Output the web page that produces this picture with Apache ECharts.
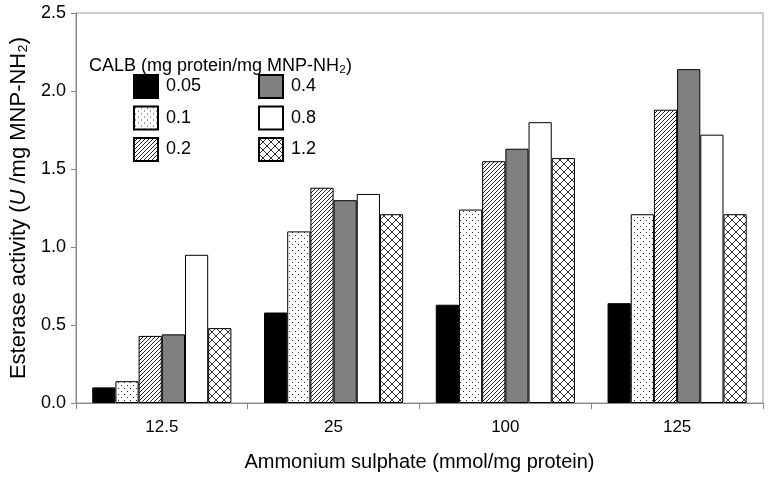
<!DOCTYPE html>
<html><head><meta charset="utf-8">
<script src="https://cdn.jsdelivr.net/npm/echarts@6/dist/echarts.min.js"></script>
<style>html,body{margin:0;padding:0;background:#fff}#c{width:768px;height:477px}</style>
</head><body><div id="c"></div>
<script>
const categories = ['12.5', '25', '100', '125'];
const seriesNames = ['0.05', '0.1', '0.2', '0.4', '0.8', '1.2'];
const s005 = [0.10, 0.58, 0.63, 0.64];
const s01  = [0.14, 1.10, 1.24, 1.21];
const s02  = [0.43, 1.38, 1.55, 1.88];
const s04  = [0.44, 1.30, 1.63, 2.14];
const s08  = [0.95, 1.34, 1.80, 1.72];
const s12  = [0.48, 1.21, 1.57, 1.21];
const yTicks = [0, 0.5, 1.0, 1.5, 2.0, 2.5];

function pat(w, h, draw) {
  const c = document.createElement('canvas');
  c.width = w; c.height = h;
  const g = c.getContext('2d');
  g.fillStyle = '#fff'; g.fillRect(0, 0, w, h);
  draw(g);
  return { image: c, repeat: 'repeat' };
}
const dots = pat(6, 6, g => { g.fillStyle = '#333'; g.fillRect(1, 1, 1, 1); g.fillRect(4, 4, 1, 1); });
const hatch = pat(4, 4, g => {
  g.strokeStyle = '#222'; g.lineWidth = 1;
  g.beginPath();
  g.moveTo(0, 4); g.lineTo(4, 0);
  g.moveTo(-1, 1); g.lineTo(1, -1);
  g.moveTo(3, 5); g.lineTo(5, 3);
  g.stroke();
});
const cross = pat(8, 8, g => {
  g.strokeStyle = '#333'; g.lineWidth = 1;
  g.beginPath();
  g.moveTo(0, 0); g.lineTo(8, 8);
  g.moveTo(0, 8); g.lineTo(8, 0);
  g.stroke();
});

const fills = [ '#000000', dots, hatch, '#808080', '#ffffff', cross ];
const values = [s005, s01, s02, s04, s08, s12];

const chart = echarts.init(document.getElementById('c'), null, { renderer: 'canvas' });
const font = 'Liberation Sans';
const legendText = { fontFamily: font, fontSize: 18, color: '#000', padding: [0, 0, 0, 3] };
chart.setOption({
  animation: false,
  textStyle: { fontFamily: font },
  title: {
    text: 'CALB (mg protein/mg MNP-NH₂)',
    left: 84, top: 52,
    textStyle: { fontFamily: font, fontSize: 18, fontWeight: 'normal', color: '#000' }
  },
  legend: [
    { data: ['0.05', '0.1', '0.2'], orient: 'vertical', left: 133, top: 74, padding: 0,
      itemWidth: 24, itemHeight: 23, itemGap: 6.5, icon: 'rect', textStyle: legendText },
    { data: ['0.4', '0.8', '1.2'], orient: 'vertical', left: 258, top: 74, padding: 0,
      itemWidth: 24, itemHeight: 23, itemGap: 6.5, icon: 'rect', textStyle: legendText }
  ],
  grid: { left: 73, right: 5, top: 13, bottom: 74, show: true, borderColor: '#999', borderWidth: 1 },
  xAxis: {
    type: 'category', data: categories,
    name: 'Ammonium sulphate (mmol/mg protein)', nameLocation: 'middle', nameGap: 49,
    nameTextStyle: { fontFamily: font, fontSize: 20, color: '#000' },
    axisLine: { lineStyle: { color: '#888' } },
    axisTick: { show: true, length: 6, lineStyle: { color: '#888' } },
    axisLabel: { fontFamily: font, fontSize: 17, color: '#000', margin: 16 }
  },
  yAxis: {
    type: 'value', min: 0, max: 2.5, interval: 0.5,
    name: '{a|Esterase activity (}{i|U}{a| /mg MNP-NH₂)}',
    nameLocation: 'middle', nameGap: 42,
    nameTextStyle: { rich: {
      a: { fontFamily: font, fontSize: 22, color: '#000' },
      i: { fontFamily: font, fontSize: 22, color: '#000', fontStyle: 'italic' } } },
    splitLine: { show: false },
    axisLine: { show: true, lineStyle: { color: '#888' } },
    axisTick: { show: true, length: 5, lineStyle: { color: '#888' } },
    axisLabel: { fontFamily: font, fontSize: 18, color: '#000', margin: 10,
      formatter: v => yTicks.includes(v) ? v.toFixed(1) : '' }
  },
  series: seriesNames.map((n, i) => ({
    name: n, type: 'bar', data: values[i],
    barGap: '0%', barCategoryGap: '19%',
    itemStyle: { color: fills[i], borderColor: '#000', borderWidth: 1 }
  }))
});
</script></body></html>
